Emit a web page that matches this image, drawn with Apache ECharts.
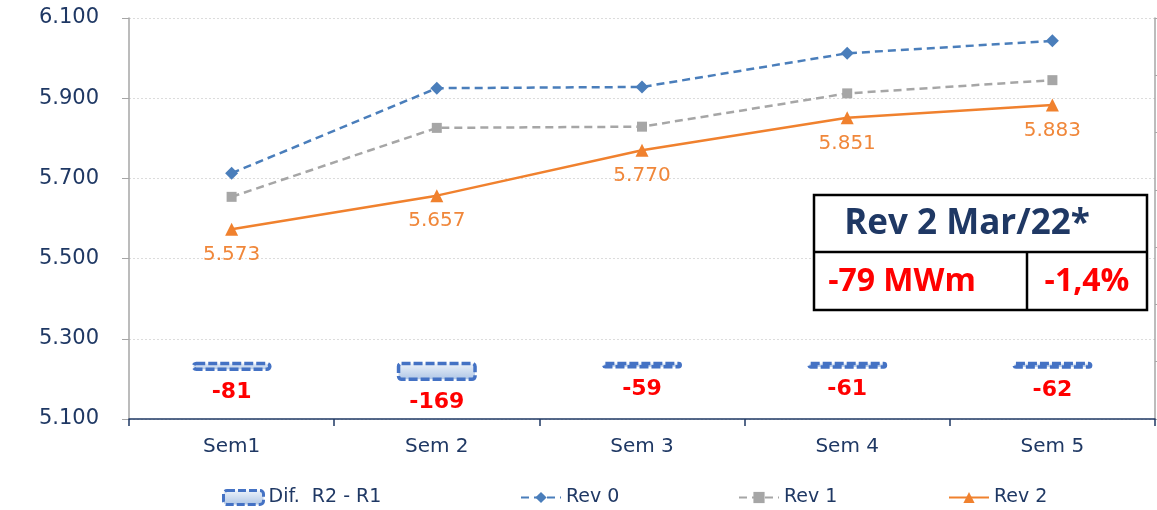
<!DOCTYPE html>
<html>
<head>
<meta charset="utf-8">
<script src="https://cdn.jsdelivr.net/npm/echarts@6/dist/echarts.min.js"></script>
<style>
html,body{margin:0;padding:0;background:#fff;}
#c{width:1157px;height:510px;}
</style>
</head>
<body>
<div id="c"></div>
<script>
// ---- data ----
const categories = ['Sem1', 'Sem 2', 'Sem 3', 'Sem 4', 'Sem 5'];
const difName = 'Dif.  R2 - R1';
const difValues = [-81, -169, -59, -61, -62];
const rev0 = [5.713, 5.925, 5.928, 6.012, 6.043];
const rev1 = [5.654, 5.826, 5.829, 5.912, 5.945];
const rev2 = [5.573, 5.657, 5.770, 5.851, 5.883];
const yTicks = { min: 5.1, max: 6.1, step: 0.2 };
const y2Ticks = { min: -500, max: 3000, step: 500 };
const boxTitle = 'Rev 2 Mar/22*';
const boxLeft = '-79 MWm';
const boxRight = '-1,4%';

const navy = '#1F3864';
const axisFont = 'DejaVu Sans, Verdana, sans-serif';
const boxFont = 'Open Sans, Liberation Sans, sans-serif';

const chart = echarts.init(document.getElementById('c'));

function fmt(v) { return v.toFixed(3); }

const legendBase = {
  top: 488, padding: 0, itemWidth: 40, itemHeight: 14, itemGap: 4,
  textStyle: { color: navy, fontSize: 19, fontFamily: axisFont }
};

chart.setOption({
  animation: false,
  backgroundColor: '#fff',
  grid: { left: 129, right: 2, top: 18, bottom: 91 },
  legend: [
    Object.assign({}, legendBase, { left: 222, data: [difName],
      itemStyle: { borderType: [8, 3], borderColor: '#4472C4', borderWidth: 3 } }),
    Object.assign({}, legendBase, { left: 520, data: ['Rev 0'] }),
    Object.assign({}, legendBase, { left: 738, data: ['Rev 1'] }),
    Object.assign({}, legendBase, { left: 948, data: ['Rev 2'] })
  ],
  xAxis: {
    type: 'category', data: categories,
    axisLine: { onZero: false, lineStyle: { color: navy, width: 1.5 } },
    axisTick: { show: true, length: 7, lineStyle: { color: navy, width: 1.5 } },
    axisLabel: { color: navy, fontSize: 20, fontFamily: axisFont, margin: 18 }
  },
  yAxis: [
    {
      type: 'value', min: yTicks.min, max: yTicks.max, interval: yTicks.step,
      axisLine: { show: true, lineStyle: { color: '#A6A6A6', width: 1.5 } },
      axisTick: { show: true, length: 7, lineStyle: { color: '#A6A6A6' } },
      axisLabel: { color: navy, fontSize: 21, fontFamily: axisFont, margin: 30, formatter: fmt },
      splitLine: { lineStyle: { color: '#DCDCDC', type: [2, 2], width: 1 } }
    },
    {
      type: 'value', min: y2Ticks.min, max: y2Ticks.max, interval: y2Ticks.step,
      position: 'right',
      axisLine: { show: true, lineStyle: { color: '#A6A6A6', width: 1.5 } },
      axisTick: { show: true, length: 7, lineStyle: { color: '#A6A6A6' } },
      axisLabel: { show: false },
      splitLine: { show: false }
    }
  ],
  series: [
    {
      name: difName, type: 'bar', yAxisIndex: 1, data: difValues, barWidth: 80,
      itemStyle: {
        color: new echarts.graphic.LinearGradient(0, 0, 0, 1, [
          { offset: 0, color: '#F2F6FB' }, { offset: 1, color: '#A9C2E4' }
        ]),
        borderColor: '#4472C4', borderWidth: 3.5, borderType: [9, 3], borderRadius: 3
      },
      label: {
        show: true, position: 'bottom', distance: 10,
        color: '#FF0000', fontWeight: 'bold', fontSize: 22, fontFamily: axisFont
      },
      z: 1
    },
    {
      name: 'Rev 0', type: 'line', data: rev0,
      color: '#4A7EBB',
      lineStyle: { color: '#4A7EBB', width: 2.5, type: [8, 5] },
      symbol: 'diamond', symbolSize: 13,
      itemStyle: { color: '#4A7EBB' }, z: 3
    },
    {
      name: 'Rev 1', type: 'line', data: rev1,
      color: '#A6A6A6',
      lineStyle: { color: '#A6A6A6', width: 2.5, type: [8, 5] },
      symbol: 'rect', symbolSize: 10,
      itemStyle: { color: '#A6A6A6' }, z: 3
    },
    {
      name: 'Rev 2', type: 'line', data: rev2,
      color: '#F0812E',
      lineStyle: { color: '#F0812E', width: 2.5 },
      symbol: 'triangle', symbolSize: 13,
      itemStyle: { color: '#F0812E' },
      label: {
        show: true, position: 'bottom', distance: 9, formatter: p => fmt(p.value),
        color: '#F0873A', fontSize: 20, fontFamily: axisFont
      },
      z: 4
    }
  ],
  graphic: [
    { type: 'rect', z: 100, shape: { x: 814, y: 195, width: 333, height: 115 },
      style: { fill: '#fff', stroke: '#000', lineWidth: 2.5 } },
    { type: 'line', z: 101, shape: { x1: 814, y1: 252, x2: 1147, y2: 252 },
      style: { stroke: '#000', lineWidth: 2.5 } },
    { type: 'line', z: 101, shape: { x1: 1027, y1: 252, x2: 1027, y2: 310 },
      style: { stroke: '#000', lineWidth: 2.5 } },
    { type: 'text', z: 102, x: 967, y: 224,
      style: { text: boxTitle, fill: '#1F3864', font: 'bold 35px ' + boxFont, align: 'center', verticalAlign: 'middle' } },
    { type: 'text', z: 102, x: 902, y: 282,
      style: { text: boxLeft, fill: '#FF0000', font: 'bold 32px ' + boxFont, align: 'center', verticalAlign: 'middle' } },
    { type: 'text', z: 102, x: 1087, y: 282,
      style: { text: boxRight, fill: '#FF0000', font: 'bold 32px ' + boxFont, align: 'center', verticalAlign: 'middle' } }
  ]
});
</script>
</body>
</html>
